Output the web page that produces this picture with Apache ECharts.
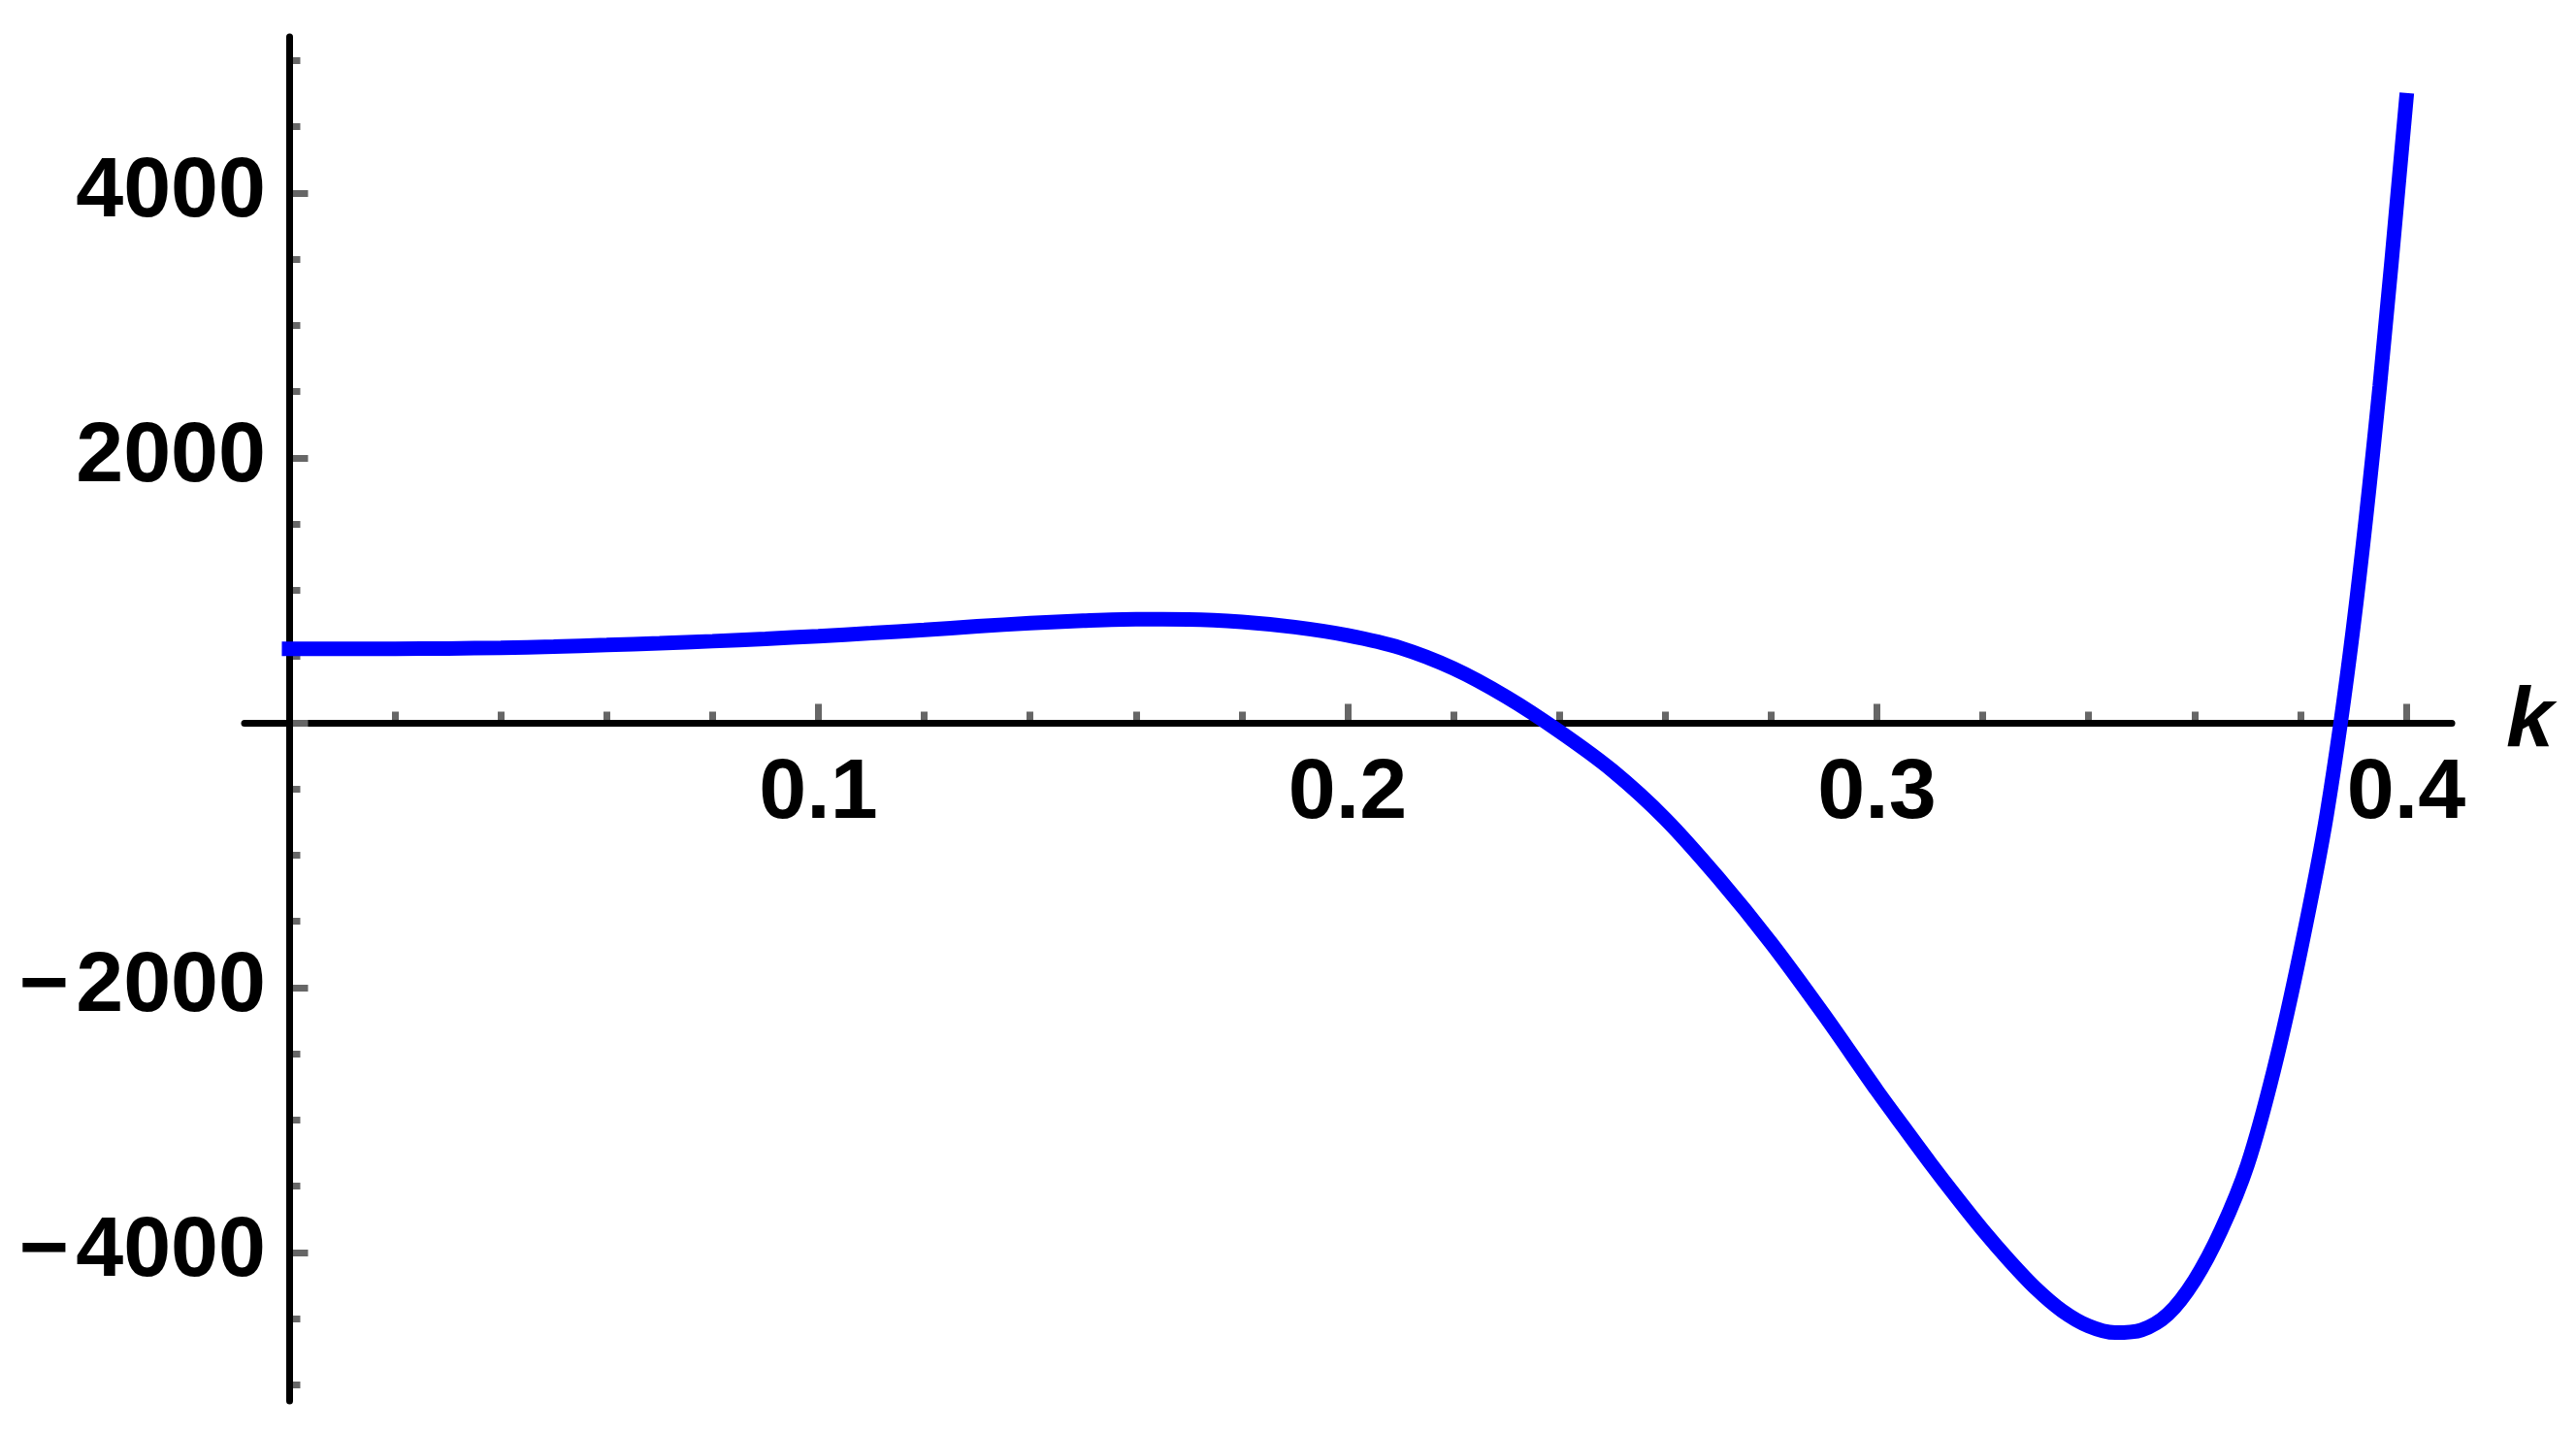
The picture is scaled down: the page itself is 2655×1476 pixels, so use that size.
<!DOCTYPE html>
<html>
<head>
<meta charset="utf-8">
<title>k plot</title>
<script src="https://cdn.jsdelivr.net/npm/echarts@6/dist/echarts.min.js"></script>
<style>
  html, body { margin: 0; padding: 0; background: #fff; }
  #chart { width: 2655px; height: 1476px; }
</style>
</head>
<body>
<div id="chart"></div>
<script>
// curve samples (finer steps where it bends hard)
const kValues = [0, 0.01, 0.02, 0.03, 0.04, 0.05, 0.06, 0.07, 0.08, 0.09,
  0.10, 0.11, 0.12, 0.13, 0.14, 0.15, 0.16, 0.17, 0.18, 0.19,
  0.20, 0.21, 0.22, 0.23, 0.24, 0.25, 0.26, 0.27, 0.28, 0.29,
  0.30, 0.305, 0.31, 0.315, 0.32, 0.325, 0.33, 0.335, 0.34, 0.345,
  0.35, 0.355, 0.36, 0.365, 0.37, 0.375, 0.38, 0.385, 0.39, 0.395, 0.40];
const fValues = [559, 558, 559, 561, 566, 575, 587, 600, 616, 634,
  654, 677, 701, 728, 752, 770, 781, 780, 762, 722,
  660, 565, 410, 195, -65, -360, -725, -1170, -1662, -2205,
  -2777, -3050, -3320, -3580, -3830, -4060, -4270, -4440, -4555, -4605,
  -4585, -4465, -4210, -3835, -3340, -2620, -1730, -690, 720, 2540, 4700];

// axis ranges and ticks
const xMin = -0.00843, xMax = 0.40862;
const yMin = -5121, yMax = 5179;
const xLabelValues = [0.1, 0.2, 0.3, 0.4];
const xMajorTicks = [0.1, 0.2, 0.3, 0.4];
const xMinorTicks = [0.02, 0.04, 0.06, 0.08, 0.12, 0.14, 0.16, 0.18,
  0.22, 0.24, 0.26, 0.28, 0.32, 0.34, 0.36, 0.38];
const yLabelValues = [-4000, -2000, 2000, 4000];
const yMajorTicks = [-4000, -2000, 0, 2000, 4000];
const yMinorTicks = [-5000, -4500, -3500, -3000, -2500, -1500, -1000, -500,
  500, 1000, 1500, 2500, 3000, 3500, 4500, 5000];

const FONT = "'Liberation Sans', Arial, Helvetica, sans-serif";
const labelStyle = {
  fontSize: 88,
  fontWeight: 'bold',
  fontFamily: FONT,
  color: '#000'
};
const fmt = v => String(v).replace('-', '\u2212\u200A');

function tickAxis(min, max, values, len, z) {
  return {
    type: 'value',
    min: min,
    max: max,
    z: z,
    axisLine: {show: true, onZero: true, lineStyle: {opacity: 0, width: 1}},
    axisTick: {
      show: true,
      inside: true,
      length: len,
      customValues: values,
      lineStyle: {color: '#666666', width: 7}
    },
    axisLabel: {show: false},
    splitLine: {show: false}
  };
}

const chart = echarts.init(document.getElementById('chart'));

// labels sit at the grid edge, not at the zero line, so margins are measured from there
const xLine = {
  type: 'value',
  min: xMin,
  max: xMax,
  position: 'bottom',
  z: 3,
  axisLine: {show: true, onZero: true, lineStyle: {color: '#000', width: 7}},
  axisTick: {show: false},
  splitLine: {show: false},
  axisLabel: Object.assign({customValues: xLabelValues, margin: -669, formatter: fmt}, labelStyle),
  name: 'k',
  nameLocation: 'end',
  nameGap: 56,
  nameTextStyle: {
    fontSize: 88,
    fontWeight: 'bold',
    fontStyle: 'italic',
    fontFamily: FONT,
    color: '#000'
  }
};

const yLine = {
  type: 'value',
  min: yMin,
  max: yMax,
  position: 'left',
  z: 5,
  axisLine: {show: true, onZero: true, lineStyle: {color: '#000', width: 7}},
  axisTick: {show: false},
  splitLine: {show: false},
  axisLabel: Object.assign({customValues: yLabelValues, margin: -22, formatter: fmt}, labelStyle)
};

const xMajor = Object.assign(tickAxis(xMin, xMax, xMajorTicks, 19.5, 1), {position: 'bottom'});
const xMinor = Object.assign(tickAxis(xMin, xMax, xMinorTicks, 11.5, 1), {position: 'bottom'});
const yMajor = Object.assign(tickAxis(yMin, yMax, yMajorTicks, 19.5, 4), {position: 'left'});
const yMinor = Object.assign(tickAxis(yMin, yMax, yMinorTicks, 11.5, 4), {position: 'left'});

const option = {
  animation: false,
  backgroundColor: '#fff',
  grid: {
    left: 252,
    right: 128,
    top: 38,
    bottom: 32,
    containLabel: false,
    outerBoundsMode: 'none'
  },
  xAxis: [xLine, xMajor, xMinor],
  yAxis: [yLine, yMajor, yMinor],
  series: [
    {
      type: 'line',
      xAxisIndex: 0,
      yAxisIndex: 0,
      data: kValues.map((k, i) => [k, fValues[i]]),
      showSymbol: false,
      smooth: 0.3,
      z: 10,
      lineStyle: {color: '#0000ff', width: 15, cap: 'square'}
    }
  ]
};

chart.setOption(option);
</script>
</body>
</html>
